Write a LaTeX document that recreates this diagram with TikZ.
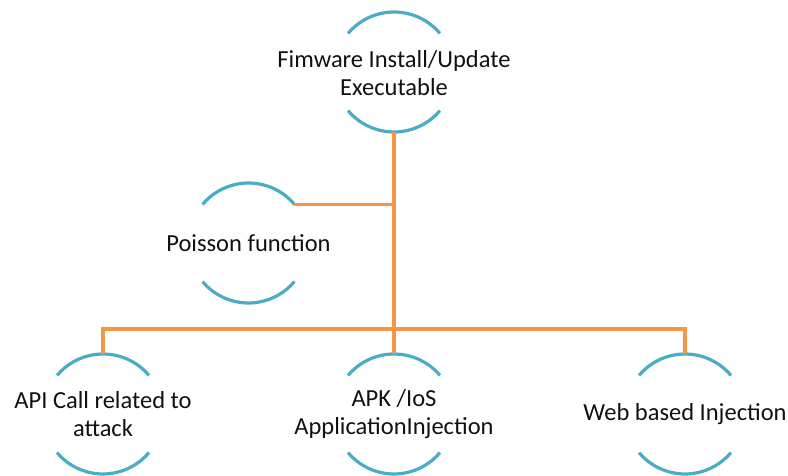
\documentclass[tikz,border=0pt]{standalone}
\usepackage{fontspec}
\setmainfont{Carlito}
\definecolor{ringc}{HTML}{4BACC6}
\definecolor{connc}{HTML}{F79646}
\definecolor{txtc}{HTML}{111111}
\begin{document}
\begin{tikzpicture}[x=1pt,y=1pt,
  ring/.style={circle,minimum size=120pt,inner sep=0pt,outer sep=0pt},
  arcline/.style={draw=ringc,line width=3.2pt},
  conn/.style={draw=connc,line width=3.2pt},
  txt/.style={text=txtc,align=center,font=\fontsize{24.5}{28}\selectfont,inner sep=0pt}]
\useasboundingbox (0,0) rectangle (788,475);
% ring nodes
\node[ring] (top) at (394,403) {};
\node[ring] (poi) at (248.5,232) {};
\node[ring] (api) at (103,61) {};
\node[ring] (apk) at (394,61) {};
\node[ring] (web) at (685,61) {};
% arcs
\foreach \n in {top,poi,api,apk,web}{
  \draw[arcline] (\n.40) arc (40:140:60);
  \draw[arcline] (\n.220) arc (220:320:60);
}
% texts
\node[txt] (toptxt) at (394,402) {Fimware Install/Update\\Executable};
\node[txt] (poitxt) at (248.5,232) {Poisson function};
\node[txt] (apitxt) at (103,61) {API Call related to\\attack};
\node[txt] (apktxt) at (394,61) {APK /IoS\\ApplicationInjection};
\node[txt] (webtxt) at (685,61) {Web based Injection};
% connectors
\draw[conn] (top.south) -- (apk.north);
\draw[conn] (poi.40) -- (poi.40 -| top.south);
\draw[conn] (api.north) -- ++(0,25) -| (web.north);
\end{tikzpicture}
\end{document}
